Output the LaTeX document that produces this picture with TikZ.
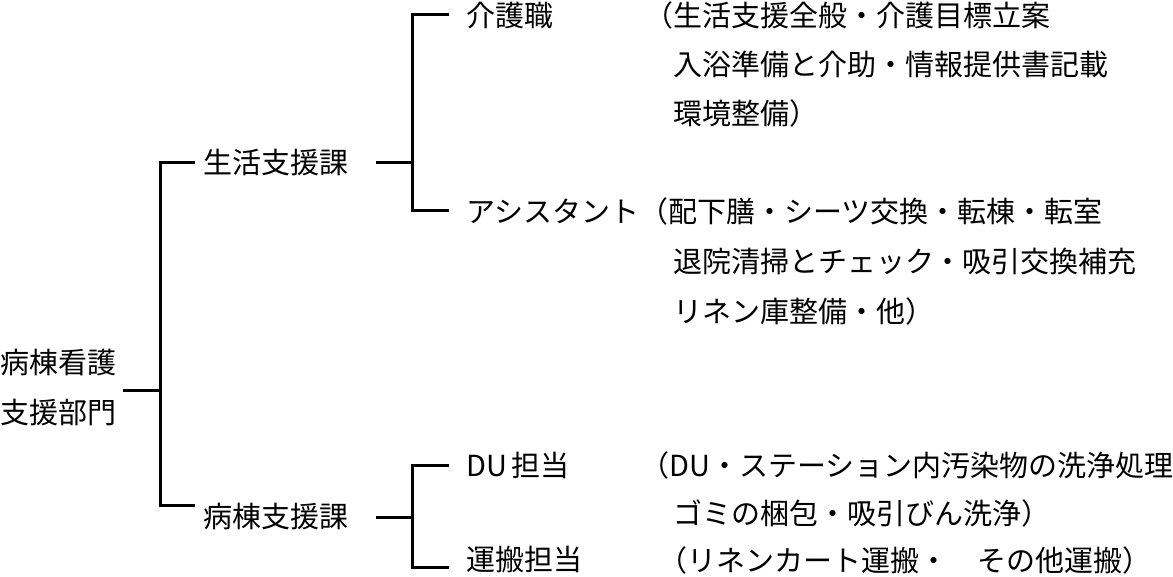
\documentclass[tikz,border=0pt]{standalone}
\usepackage{fontspec}
\setmainfont{Noto Sans CJK JP}
\begin{document}
\begin{tikzpicture}[x=1pt,y=-1pt,
  lbl/.style={anchor=west,inner sep=0pt,font=\fontsize{29}{50}\selectfont},
  conn/.style={line width=3pt,line join=miter,line cap=rect}]
\useasboundingbox[fill=white] (0,0) rectangle (1173,577);
% text
\node[lbl,align=left] (root) at (0,388) {病棟看護\\支援部門};
\node[lbl] (seikatsu) at (203,163) {生活支援課};
\node[lbl] (byoto) at (203,517) {病棟支援課};
\node[lbl] (kaigo) at (466,15) {介護職};
\node[lbl] (kaigod1) at (644,15) {（生活支援全般・介護目標立案};
\node[lbl] (kaigod2) at (673,64) {入浴準備と介助・情報提供書記載};
\node[lbl] (kaigod3) at (673,113) {環境整備）};
\node[lbl] (asst) at (466,211) {アシスタント};
\node[lbl] (asstd1) at (asst.east) {（配下膳・シーツ交換・転棟・転室};
\node[lbl] (asstd2) at (673,262) {退院清掃とチェック・吸引交換補充};
\node[lbl] (asstd3) at (673,311) {リネン庫整備・他）};
\node[lbl] (du) at (466,465) {DU\kern4pt 担当};
\node[lbl] (dud1) at (640,465) {（DU・ステーション内汚染物の洗浄処理};
\node[lbl] (dud2) at (673,513) {ゴミの梱包・吸引びん洗浄）};
\node[lbl] (unpan) at (466,560) {運搬担当};
\node[lbl] (unpand1) at (658,560) {（リネンカート運搬・　その他運搬）};
% junctions
\coordinate (rj) at (160,390);
\coordinate (v1t) at (160,163);
\coordinate (v1b) at (160,505);
\coordinate (sj) at (412,163);
\coordinate (v2t) at (412,15);
\coordinate (v2b) at (412,211);
\coordinate (bj) at (412,517);
\coordinate (v3t) at (412,465);
\coordinate (v3b) at (412,567);
% connectors
\draw[conn] ([xshift=8pt]root.east |- rj) -- (rj);
\draw[conn] ([xshift=-10pt]seikatsu.west) -- (v1t) -- (v1b) -- ([xshift=-10pt]byoto.west |- v1b);
\draw[conn] ([xshift=29pt]seikatsu.east) -- (sj);
\draw[conn] ([xshift=-19pt]kaigo.west) -- (v2t) -- (v2b) -- ([xshift=-19pt]asst.west);
\draw[conn] ([xshift=29pt]byoto.east |- bj) -- (bj);
\draw[conn] ([xshift=-19pt]du.west) -- (v3t) -- (v3b) -- ([xshift=-19pt]unpan.west |- v3b);
\end{tikzpicture}
\end{document}
